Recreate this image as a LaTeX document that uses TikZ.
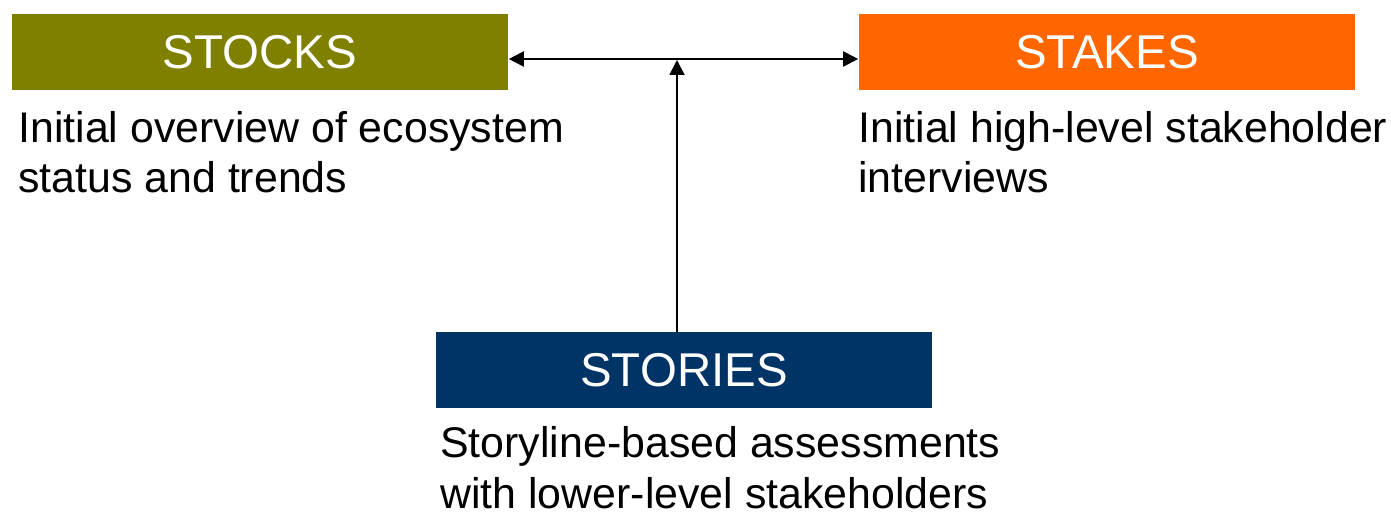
\documentclass[tikz,border=0pt]{standalone}
\usepackage{fontspec}
\setmainfont{Liberation Sans}
\usepackage{tikz}
\usetikzlibrary{arrows.meta,calc}
\definecolor{stockcol}{HTML}{808000}
\definecolor{stakecol}{HTML}{FF6600}
\definecolor{storycol}{HTML}{003366}
\tikzset{
headbox/.style={fill=#1,text=white,minimum width=9.94cm,minimum height=1.52cm,inner sep=0pt,font=\fontsize{27}{32}\selectfont},
desc/.style={anchor=base west,inner sep=0pt,align=left,font=\fontsize{24.4}{28.9}\selectfont},
link/.style={line width=1.1pt}
}
\begin{document}
\begin{tikzpicture}[x=0.02cm,y=-0.02cm]
\useasboundingbox (0,0) rectangle (1391,513);
\foreach \name/\x/\y/\col/\label in {stocks/260/52/stockcol/STOCKS,stakes/1107/52/stakecol/STAKES,stories/684/370/storycol/STORIES}{
\node[headbox=\col] (\name) at (\x,\y) {\label};
}
% base anchor sits on the last line
\node[desc] (stocksdesc) at (18,193) {Initial overview of ecosystem\\status and trends};
\node[desc] (stakesdesc) at (858,193) {Initial high-level stakeholder\\interviews};
\node[desc] (storiesdesc) at (440,508) {Storyline-based assessments\\with lower-level stakeholders};
\coordinate (meet) at (677,59);
\draw[link,{Triangle[length=0.3cm,width=0.3cm]}-{Triangle[length=0.3cm,width=0.3cm]}] (stocks.east |- meet) -- (stakes.west |- meet);
\draw[link,-{Triangle[length=0.3cm,width=0.3cm]},shorten >=0.02cm] (stories.north -| meet) -- (meet);
\end{tikzpicture}
\end{document}
